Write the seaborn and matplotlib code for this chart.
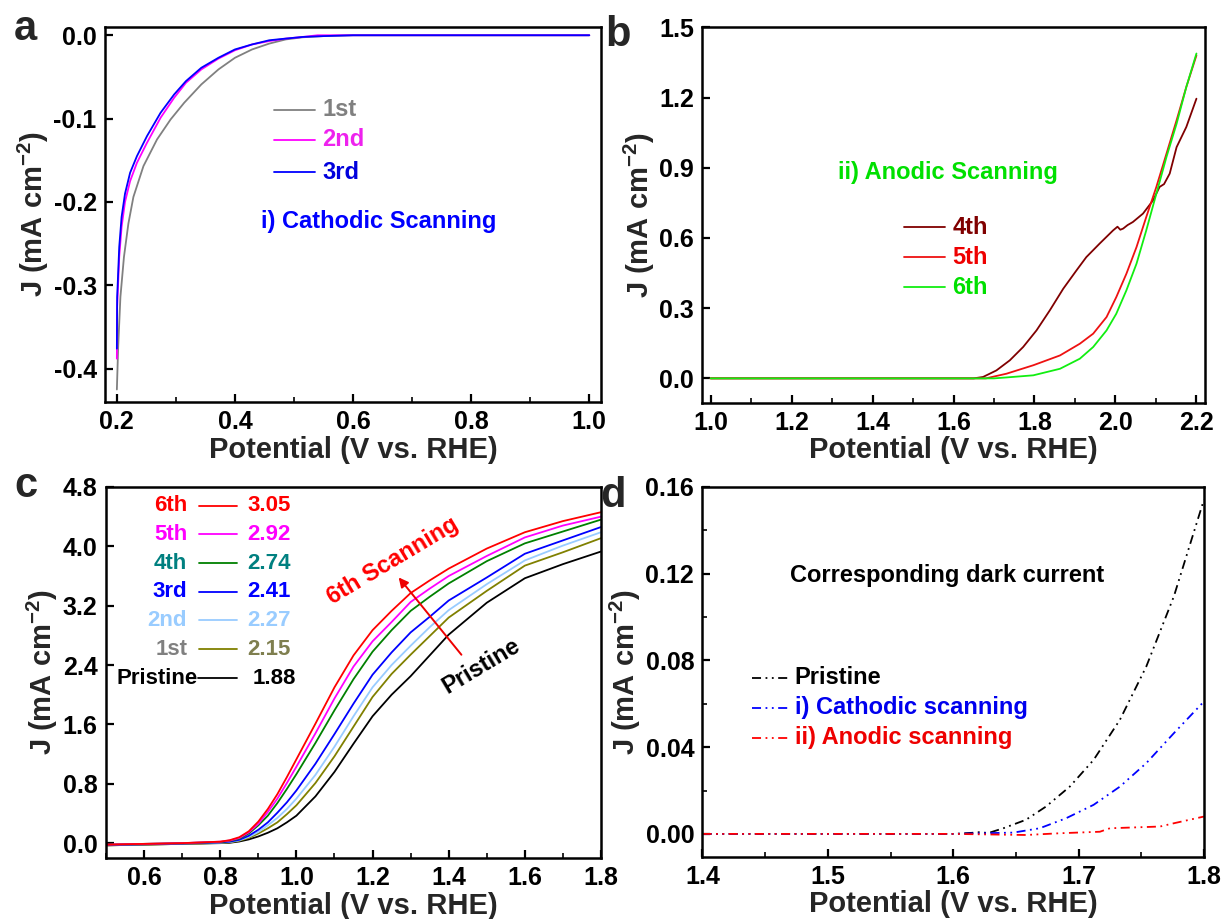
import matplotlib
matplotlib.use('Agg')
import matplotlib.pyplot as plt
import seaborn as sns
import pandas as pd
from matplotlib.ticker import MultipleLocator, FormatStrFormatter

# ---------------- Panel a : cathodic scanning ----------------
a_1st_v = [0.2, 0.2022, 0.206, 0.212, 0.2195, 0.228, 0.245, 0.268, 0.291, 0.314, 0.343, 0.372,
           0.40, 0.429, 0.458, 0.486, 0.515, 0.55, 0.6, 0.7, 0.8, 0.9, 1.0]
a_1st_j = [-0.425, -0.374, -0.314, -0.266, -0.226, -0.194, -0.157, -0.125, -0.101, -0.081, -0.059, -0.041,
           -0.027, -0.017, -0.010, -0.005, -0.0024, -0.001, 0.0, 0.0, 0.0, 0.0, 0.0]
a_2nd_v = [0.2, 0.2005, 0.204, 0.208, 0.2138, 0.2224, 0.234, 0.251, 0.274, 0.297, 0.317, 0.343, 0.372,
           0.40, 0.429, 0.458, 0.486, 0.515, 0.54, 0.6, 0.7, 0.8, 0.9, 1.0]
a_2nd_j = [-0.388, -0.326, -0.266, -0.23, -0.2, -0.175, -0.153, -0.129, -0.099, -0.075, -0.057, -0.041, -0.028,
           -0.018, -0.011, -0.007, -0.004, -0.002, 0.0, 0.0, 0.0, 0.0, 0.0, 0.0]
a_3rd_v = [0.2, 0.2005, 0.204, 0.208, 0.2138, 0.2224, 0.234, 0.251, 0.274, 0.297, 0.317, 0.343, 0.372,
           0.40, 0.429, 0.458, 0.486, 0.515, 0.55, 0.6, 0.7, 0.8, 0.9, 1.0]
a_3rd_j = [-0.376, -0.314, -0.254, -0.218, -0.190, -0.165, -0.145, -0.121, -0.093, -0.071, -0.055, -0.039, -0.027,
           -0.017, -0.011, -0.006, -0.004, -0.002, -0.001, 0.0, 0.0, 0.0, 0.0, 0.0]
a_labels = ['1st', '2nd', '3rd']

# ---------------- Panel b : anodic scanning ----------------
b_4th_v = [1.0, 1.2, 1.4, 1.6, 1.65, 1.673, 1.706, 1.739, 1.772, 1.805, 1.838, 1.871, 1.904, 1.928, 1.961,
           1.994, 2.005, 2.012, 2.019, 2.03, 2.043, 2.068, 2.093, 2.109, 2.12, 2.134, 2.151, 2.175, 2.2]
b_4th_j = [0.0, 0.0, 0.0, 0.0, 0.0, 0.006, 0.034, 0.077, 0.134, 0.205, 0.291, 0.383, 0.462, 0.518, 0.576,
           0.632, 0.648, 0.635, 0.640, 0.655, 0.668, 0.704, 0.761, 0.818, 0.83, 0.875, 0.988, 1.074, 1.195]
b_5th_v = [1.0, 1.2, 1.4, 1.6, 1.68, 1.731, 1.797, 1.863, 1.912, 1.945, 1.978, 2.002, 2.027, 2.052, 2.076,
           2.101, 2.126, 2.151, 2.175, 2.2]
b_5th_j = [0.0, 0.0, 0.0, 0.0, 0.0, 0.02, 0.056, 0.098, 0.148, 0.191, 0.262, 0.347, 0.447, 0.561, 0.689,
           0.818, 0.960, 1.103, 1.245, 1.380]
b_6th_v = [1.0, 1.2, 1.4, 1.6, 1.7, 1.731, 1.797, 1.863, 1.912, 1.945, 1.978, 2.002, 2.027, 2.052, 2.076,
           2.101, 2.126, 2.151, 2.175, 2.2]
b_6th_j = [0.0, 0.0, 0.0, 0.0, 0.0, 0.004, 0.013, 0.041, 0.084, 0.134, 0.205, 0.276, 0.376, 0.49, 0.632,
           0.789, 0.946, 1.088, 1.245, 1.388]
b_labels = ['4th', '5th', '6th']

# ---------------- Panel c : photocurrent ----------------
c_v = [0.5, 0.6, 0.7, 0.8, 0.825, 0.85, 0.875, 0.9, 0.925, 0.95, 0.975, 1.0, 1.05, 1.1, 1.15, 1.2, 1.25,
       1.3, 1.35, 1.4, 1.5, 1.6, 1.7, 1.8]
c_6th = [-0.02, -0.01, 0.0, 0.02, 0.04, 0.08, 0.16, 0.29, 0.46, 0.66, 0.89, 1.13, 1.61, 2.10, 2.53, 2.87, 3.13,
         3.37, 3.54, 3.70, 3.97, 4.19, 4.34, 4.46]
c_5th = [-0.02, -0.01, 0.0, 0.02, 0.035, 0.07, 0.146, 0.26, 0.42, 0.60, 0.81, 1.03, 1.48, 1.95, 2.38, 2.72, 2.98,
         3.25, 3.43, 3.60, 3.87, 4.12, 4.28, 4.40]
c_4th = [-0.02, -0.01, 0.0, 0.015, 0.03, 0.06, 0.13, 0.24, 0.37, 0.54, 0.73, 0.93, 1.35, 1.79, 2.21, 2.58, 2.87,
         3.13, 3.32, 3.50, 3.80, 4.04, 4.20, 4.36]
c_3rd = [-0.025, -0.015, -0.005, 0.01, 0.02, 0.045, 0.10, 0.18, 0.28, 0.41, 0.55, 0.71, 1.07, 1.47, 1.88, 2.27, 2.57,
         2.84, 3.05, 3.27, 3.58, 3.90, 4.08, 4.26]
c_2nd = [-0.025, -0.015, -0.005, 0.006, 0.015, 0.038, 0.083, 0.15, 0.24, 0.34, 0.46, 0.60, 0.92, 1.30, 1.71, 2.10, 2.40,
         2.66, 2.91, 3.14, 3.49, 3.81, 4.01, 4.19]
c_1st = [-0.03, -0.02, -0.01, 0.003, 0.01, 0.032, 0.07, 0.13, 0.20, 0.28, 0.39, 0.51, 0.81, 1.17, 1.57, 1.97, 2.28,
         2.54, 2.79, 3.04, 3.40, 3.74, 3.92, 4.11]
c_pristine = [-0.03, -0.02, -0.01, 0.0, 0.005, 0.022, 0.05, 0.09, 0.14, 0.20, 0.28, 0.37, 0.63, 0.96, 1.34, 1.71, 2.00,
              2.25, 2.53, 2.81, 3.24, 3.57, 3.76, 3.93]
c_labels = ['6th', '5th', '4th', '3rd', '2nd', '1st', 'Pristine']
c_values = ['3.05', '2.92', '2.74', '2.41', '2.27', '2.15', '1.88']

# ---------------- Panel d : dark current ----------------
d_pri_v = [1.4, 1.5, 1.6, 1.615, 1.621, 1.628, 1.64, 1.658, 1.674, 1.693, 1.712, 1.733, 1.754, 1.776, 1.8]
d_pri_j = [0.0, 0.0, 0.0, 0.0005, 0.0008, 0.0004, 0.0026, 0.0065, 0.0126, 0.0218, 0.0341, 0.0526, 0.0771, 0.1094, 0.154]
d_cat_v = [1.4, 1.5, 1.6, 1.648, 1.669, 1.690, 1.712, 1.733, 1.754, 1.776, 1.8]
d_cat_j = [0.0, 0.0, 0.0, 0.0006, 0.0026, 0.0072, 0.0134, 0.0218, 0.0326, 0.0464, 0.061]
d_ano_v = [1.4, 1.5, 1.6, 1.658, 1.685, 1.717, 1.725, 1.765, 1.776, 1.8]
d_ano_j = [0.0, 0.0, 0.0, -0.0005, 0.0003, 0.001, 0.0026, 0.0034, 0.0049, 0.008]
d_labels = ['Pristine', 'i) Cathodic scanning', 'ii) Anodic scanning']

# ---------------- style ----------------
sns.set_theme(style='white')
plt.rcParams['font.family'] = ['Liberation Sans', 'DejaVu Sans']
plt.rcParams['font.weight'] = 'bold'
plt.rcParams['axes.labelweight'] = 'bold'
plt.rcParams['axes.unicode_minus'] = False
plt.rcParams['mathtext.fontset'] = 'custom'
plt.rcParams['mathtext.rm'] = 'Liberation Sans:bold'
plt.rcParams['mathtext.it'] = 'Liberation Sans:bold'
plt.rcParams['mathtext.bf'] = 'Liberation Sans:bold'
plt.rcParams['mathtext.default'] = 'rm'

TICK_FS = 18
LABEL_FS = 21
TXT_FS = 17
LW = 1.3

fig = plt.figure(figsize=(12.23, 9.19), dpi=100)
ax_a = fig.add_axes([0.0859, 0.5626, 0.4056, 0.4081])
ax_b = fig.add_axes([0.5744, 0.5618, 0.4105, 0.4085])
ax_c = fig.add_axes([0.0867, 0.0664, 0.4047, 0.4037])
ax_d = fig.add_axes([0.5744, 0.0678, 0.4100, 0.4026])


def style_axis(ax, xmaj, xmin, ymaj, ymin, xfmt, yfmt):
    for s in ax.spines.values():
        s.set_visible(True)
        s.set_linewidth(1.8)
        s.set_color('black')
    ax.xaxis.set_major_locator(MultipleLocator(xmaj))
    ax.yaxis.set_major_locator(MultipleLocator(ymaj))
    if xmin:
        ax.xaxis.set_minor_locator(MultipleLocator(xmin))
    if ymin:
        ax.yaxis.set_minor_locator(MultipleLocator(ymin))
    ax.xaxis.set_major_formatter(FormatStrFormatter(xfmt))
    ax.yaxis.set_major_formatter(FormatStrFormatter(yfmt))
    ax.tick_params(which='major', direction='in', length=6, width=1.6, labelsize=TICK_FS, pad=6,
                   bottom=True, left=True, top=False, right=False, colors='black')
    ax.tick_params(which='minor', direction='in', length=3.5, width=1.4,
                   bottom=True, left=True, top=False, right=False)
    ax.set_xlabel('Potential (V vs. RHE)', fontsize=LABEL_FS, labelpad=1)
    ax.set_ylabel(r'J (mA cm$^{-2}$)', fontsize=LABEL_FS, labelpad=2)
    ax.grid(False)
    ax.set_facecolor('white')


def line(ax, x, y, color, **kw):
    sns.lineplot(x=x, y=y, color=color, lw=kw.pop('lw', LW), ax=ax, legend=False,
                 estimator=None, sort=False, **kw)


def key(ax, x0, x1, y, color, **kw):
    ax.plot([x0, x1], [y, y], transform=ax.transAxes, color=color, lw=kw.pop('lw', LW), **kw)


# ---- panel a ----
a_colors = ['#808080', '#FF00FF', '#0000FF']
for v, j, c in zip([a_1st_v, a_2nd_v, a_3rd_v], [a_1st_j, a_2nd_j, a_3rd_j], a_colors):
    line(ax_a, v, j, c)
ax_a.set_xlim(0.18, 1.02)
ax_a.set_ylim(-0.44, 0.01)
style_axis(ax_a, 0.2, 0.1, 0.1, None, '%.1f', '%.1f')
a_txt_colors = ['#808080', '#EE22EE', '#0000DD']
for lab, c, tc, yy in zip(a_labels, a_colors, a_txt_colors, [0.779, 0.699, 0.613]):
    key(ax_a, 0.341, 0.423, yy, c)
    ax_a.text(0.4375, yy, lab, transform=ax_a.transAxes, color=tc, fontsize=TXT_FS, va='center', ha='left')
ax_a.text(0.315, 0.48, 'i) Cathodic Scanning', transform=ax_a.transAxes, color='#0000FF',
          fontsize=TXT_FS, va='center', ha='left')

# ---- panel b ----
b_colors = ['#800000', '#EE1111', '#11EE11']
for v, j, c in zip([b_4th_v, b_5th_v, b_6th_v], [b_4th_j, b_5th_j, b_6th_j], b_colors):
    line(ax_b, v, j, c)
ax_b.set_xlim(0.98, 2.22)
ax_b.set_ylim(-0.104, 1.5)
style_axis(ax_b, 0.2, 0.1, 0.3, None, '%.1f', '%.1f')
b_txt_colors = ['#800000', '#EE0000', '#00E000']
for lab, c, tc, yy in zip(b_labels, b_colors, b_txt_colors, [0.468, 0.388, 0.308]):
    key(ax_b, 0.401, 0.484, yy, c)
    ax_b.text(0.498, yy, lab, transform=ax_b.transAxes, color=tc, fontsize=TXT_FS, va='center', ha='left')
ax_b.text(0.489, 0.612, 'ii) Anodic Scanning', transform=ax_b.transAxes, color='#00E000',
          fontsize=TXT_FS, va='center', ha='center')

# ---- panel c ----
c_colors = ['#FF0000', '#FF00FF', '#008000', '#0000FF', '#99CCFF', '#808000', '#000000']
c_lab_colors = ['#FF0000', '#FF00FF', '#008080', '#0000FF', '#99CCFF', '#808080', '#000000']
c_val_colors = ['#FF0000', '#FF00FF', '#008080', '#0000FF', '#99CCFF', '#7F7F4F', '#000000']
c_series = [c_6th, c_5th, c_4th, c_3rd, c_2nd, c_1st, c_pristine]
for j, c in zip(c_series[::-1], c_colors[::-1]):
    line(ax_c, c_v, j, c)
ax_c.set_xlim(0.5, 1.8)
ax_c.set_ylim(-0.2, 4.8)
style_axis(ax_c, 0.2, 0.1, 0.8, None, '%.1f', '%.1f')
rows = [0.949, 0.873, 0.795, 0.717, 0.641, 0.563, 0.485]
for i, (lab, val, yy) in enumerate(zip(c_labels, c_values, rows)):
    if lab == 'Pristine':
        key(ax_c, 0.186, 0.265, yy, c_colors[i])
        ax_c.text(0.186, yy, lab, transform=ax_c.transAxes, color=c_lab_colors[i], fontsize=16,
                  va='center', ha='right')
        ax_c.text(0.297, yy, val, transform=ax_c.transAxes, color=c_val_colors[i], fontsize=16,
                  va='center', ha='left')
    else:
        key(ax_c, 0.188, 0.265, yy, c_colors[i])
        ax_c.text(0.164, yy, lab, transform=ax_c.transAxes, color=c_lab_colors[i], fontsize=16,
                  va='center', ha='right')
        ax_c.text(0.285, yy, val, transform=ax_c.transAxes, color=c_val_colors[i], fontsize=16,
                  va='center', ha='left')
ax_c.annotate('', xy=(1.264, 3.61), xytext=(1.438, 2.51),
              arrowprops=dict(arrowstyle='-|>', color='#EE0000', lw=1.4, mutation_scale=14))
ax_c.text(1.253, 3.81, '6th Scanning', color='#FF0000', fontsize=TXT_FS, rotation=31,
          ha='center', va='center', rotation_mode='anchor')
ax_c.text(1.485, 2.39, 'Pristine', color='black', fontsize=TXT_FS, rotation=31,
          ha='center', va='center', rotation_mode='anchor')

# ---- panel d ----
dd = (0, (5, 2.5, 1, 2.5, 1, 2.5))
d_colors = ['#000000', '#0000FF', '#FF0000']
for v, j, c in zip([d_pri_v, d_cat_v, d_ano_v], [d_pri_j, d_cat_j, d_ano_j], d_colors):
    line(ax_d, v, j, c, linestyle=dd)
ax_d.set_xlim(1.4, 1.8)
ax_d.set_ylim(-0.0105, 0.16)
style_axis(ax_d, 0.1, 0.05, 0.04, 0.02, '%.1f', '%.2f')
d_txt_colors = ['#000000', '#0000EE', '#EE0000']
for lab, c, tc, yy in zip(d_labels, d_colors, d_txt_colors, [0.483, 0.402, 0.321]):
    key(ax_d, 0.099, 0.172, yy, c, linestyle=dd)
    ax_d.text(0.184, yy, lab, transform=ax_d.transAxes, color=tc, fontsize=TXT_FS, va='center', ha='left')
ax_d.text(0.488, 0.761, 'Corresponding dark current', transform=ax_d.transAxes, color='black',
          fontsize=TXT_FS, va='center', ha='center')

# ---- panel letters ----
for s, x, y in [('a', 0.0114, 0.9565), ('b', 0.4947, 0.950), ('c', 0.0114, 0.459), ('d', 0.4906, 0.4483)]:
    fig.text(x, y, s, fontsize=30, fontweight='bold', ha='left', va='baseline')

fig.savefig('out.png', dpi=100, facecolor='white')
